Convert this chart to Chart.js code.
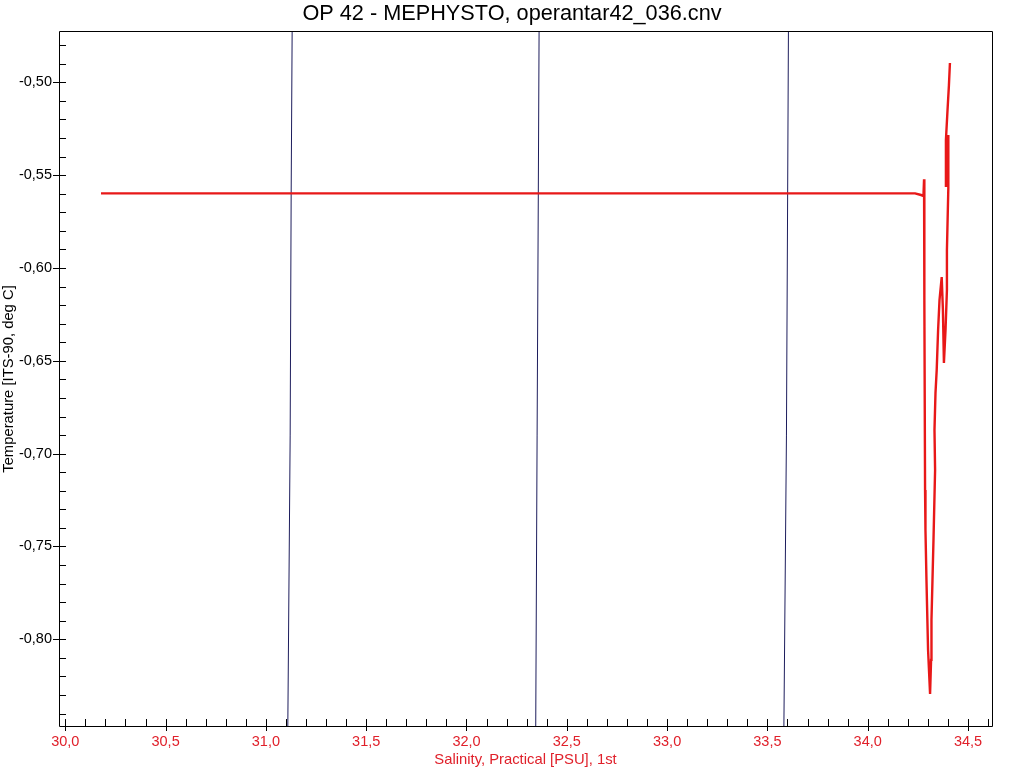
<!DOCTYPE html>
<html>
<head>
<meta charset="utf-8">
<script src="https://cdn.jsdelivr.net/npm/chart.js@4"></script>
<style>
  html, body { margin: 0; padding: 0; background: #ffffff; }
  canvas { display: block; }
</style>
</head>
<body>
<canvas id="c" width="1024" height="768"></canvas>
<script>
// ---- data ----
const profileSalinity = [30.178, 34.236, 34.266, 34.278, 34.281, 34.282, 34.283, 34.286, 34.288, 34.293, 34.301, 34.311,
  34.316, 34.318, 34.323, 34.328, 34.336, 34.333, 34.338, 34.344, 34.351, 34.358, 34.369, 34.375, 34.380,
  34.388, 34.395, 34.395, 34.402, 34.402, 34.394, 34.390, 34.390, 34.398, 34.405, 34.410];
const profileTemperature = [-0.5598, -0.5598, -0.5607, -0.5612, -0.5522, -0.5634, -0.6173, -0.7196, -0.7411, -0.7681, -0.8058, -0.8295,
  -0.8111, -0.7896, -0.7681, -0.7465, -0.7088, -0.6873, -0.6673, -0.6550, -0.6334, -0.6173, -0.6049, -0.6226, -0.6512,
  -0.6334, -0.6119, -0.5903, -0.5569, -0.5284, -0.5418, -0.5564, -0.5311, -0.5149, -0.5015, -0.4896];

const isoTemperature = [-0.47, -0.56, -0.69, -0.85];
const iso1Salinity = [31.131, 31.126, 31.121, 31.109];
const iso2Salinity = [32.362, 32.358, 32.352, 32.345];
const iso3Salinity = [33.605, 33.601, 33.595, 33.582];

const xMajorTicks = [30.0, 30.5, 31.0, 31.5, 32.0, 32.5, 33.0, 33.5, 34.0, 34.5];
const xMinorTicks = [30.0, 30.1, 30.2, 30.3, 30.4, 30.5, 30.6, 30.7, 30.8, 30.9, 31.0, 31.1, 31.2, 31.3, 31.4,
  31.5, 31.6, 31.7, 31.8, 31.9, 32.0, 32.1, 32.2, 32.3, 32.4, 32.5, 32.6, 32.7, 32.8, 32.9, 33.0, 33.1, 33.2,
  33.3, 33.4, 33.5, 33.6, 33.7, 33.8, 33.9, 34.0, 34.1, 34.2, 34.3, 34.4, 34.5, 34.6];
const yMajorTicks = [-0.50, -0.55, -0.60, -0.65, -0.70, -0.75, -0.80];
const yMinorTicks = [-0.48, -0.49, -0.50, -0.51, -0.52, -0.53, -0.54, -0.55, -0.56, -0.57, -0.58, -0.59, -0.60,
  -0.61, -0.62, -0.63, -0.64, -0.65, -0.66, -0.67, -0.68, -0.69, -0.70, -0.71, -0.72, -0.73, -0.74, -0.75,
  -0.76, -0.77, -0.78, -0.79, -0.80, -0.81, -0.82, -0.83, -0.84];

const xRange = [29.9686, 34.6197];
const yRange = [-0.8467, -0.4729];

// ---- helpers ----
const toPoints = (xs, ys) => xs.map((v, i) => ({ x: v, y: ys[i] }));
const FONT = "'Liberation Sans', Arial, sans-serif";

const frameTicks = {
  id: 'frameTicks',
  afterDatasetsDraw(chart) {
    const { ctx, chartArea: a, scales: { x, y } } = chart;
    ctx.save();
    ctx.strokeStyle = '#000000';
    ctx.lineWidth = 1;
    ctx.beginPath();
    ctx.rect(a.left + 0.5, a.top - 0.5, a.right - a.left, a.bottom - a.top + 1);
    yMinorTicks.forEach(v => {
      const py = Math.round(y.getPixelForValue(v)) + 0.5;
      ctx.moveTo(a.left, py); ctx.lineTo(a.left + 7, py);
    });
    yMajorTicks.forEach(v => {
      const py = Math.round(y.getPixelForValue(v)) + 0.5;
      ctx.moveTo(a.left - 6, py); ctx.lineTo(a.left + 7, py);
    });
    xMinorTicks.forEach(v => {
      const px = Math.round(x.getPixelForValue(v)) + 0.5;
      ctx.moveTo(px, a.bottom + 1); ctx.lineTo(px, a.bottom - 7);
    });
    xMajorTicks.forEach(v => {
      const px = Math.round(x.getPixelForValue(v)) + 0.5;
      ctx.moveTo(px, a.bottom + 5); ctx.lineTo(px, a.bottom - 7);
    });
    ctx.stroke();
    ctx.restore();
  }
};

new Chart(document.getElementById('c'), {
  type: 'scatter',
  data: {
    datasets: [
      { data: toPoints(profileSalinity, profileTemperature), showLine: true, borderColor: '#e81818',
        borderWidth: 2.4, pointRadius: 0, tension: 0, clip: 0, yAxisID: 'y' },
      { data: toPoints(iso1Salinity, isoTemperature), showLine: true, borderColor: '#1c1c5c',
        borderWidth: 1, pointRadius: 0, tension: 0, clip: 0, yAxisID: 'y' },
      { data: toPoints(iso2Salinity, isoTemperature), showLine: true, borderColor: '#1c1c5c',
        borderWidth: 1, pointRadius: 0, tension: 0, clip: 0, yAxisID: 'y' },
      { data: toPoints(iso3Salinity, isoTemperature), showLine: true, borderColor: '#1c1c5c',
        borderWidth: 1, pointRadius: 0, tension: 0, clip: 0, yAxisID: 'y' }
    ]
  },
  options: {
    responsive: false,
    animation: false,
    devicePixelRatio: 1,
    layout: { padding: 0 },
    plugins: {
      legend: { display: false },
      tooltip: { enabled: false },
      title: {
        display: true,
        text: 'OP 42 - MEPHYSTO, operantar42_036.cnv',
        color: '#000000',
        font: { family: FONT, size: 21.7, weight: 'normal' },
        padding: { top: 1.5, bottom: 4.46 }
      }
    },
    scales: {
      x: {
        type: 'linear',
        position: 'bottom',
        min: xRange[0], max: xRange[1],
        grid: { display: false, drawTicks: false },
        border: { display: false },
        afterBuildTicks: (s) => { s.ticks = xMajorTicks.map(v => ({ value: v })); },
        afterFit: (s) => { s.height = 42; },
        ticks: {
          autoSkip: false, maxRotation: 0, padding: 7,
          color: '#e0202a',
          font: { family: FONT, size: 14.5 },
          callback: (v) => Number(v).toFixed(1).replace('.', ',')
        },
        title: {
          display: true,
          text: 'Salinity, Practical [PSU], 1st',
          color: '#e0202a',
          font: { family: FONT, size: 14.8 },
          padding: { top: 0, bottom: -0.5 }
        }
      },
      y: {
        type: 'linear',
        position: 'left',
        min: yRange[0], max: yRange[1],
        grid: { display: false, drawTicks: false },
        border: { display: false },
        afterBuildTicks: (s) => { s.ticks = yMajorTicks.map(v => ({ value: v })); },
        afterFit: (s) => { s.width = 59; },
        ticks: {
          autoSkip: false, padding: 7,
          color: '#000000',
          font: { family: FONT, size: 14.5 },
          callback: (v) => Number(v).toFixed(2).replace('.', ',')
        },
        title: {
          display: true,
          text: 'Temperature [ITS-90, deg C]',
          color: '#000000',
          font: { family: FONT, size: 14.8 },
          padding: { top: 0, bottom: 0 }
        }
      },
      yr: {
        type: 'linear',
        position: 'right',
        min: 0, max: 1,
        grid: { display: false, drawTicks: false },
        border: { display: false },
        ticks: { display: false },
        afterFit: (s) => { s.width = 32; }
      }
    }
  },
  plugins: [frameTicks]
});
</script>
</body>
</html>
